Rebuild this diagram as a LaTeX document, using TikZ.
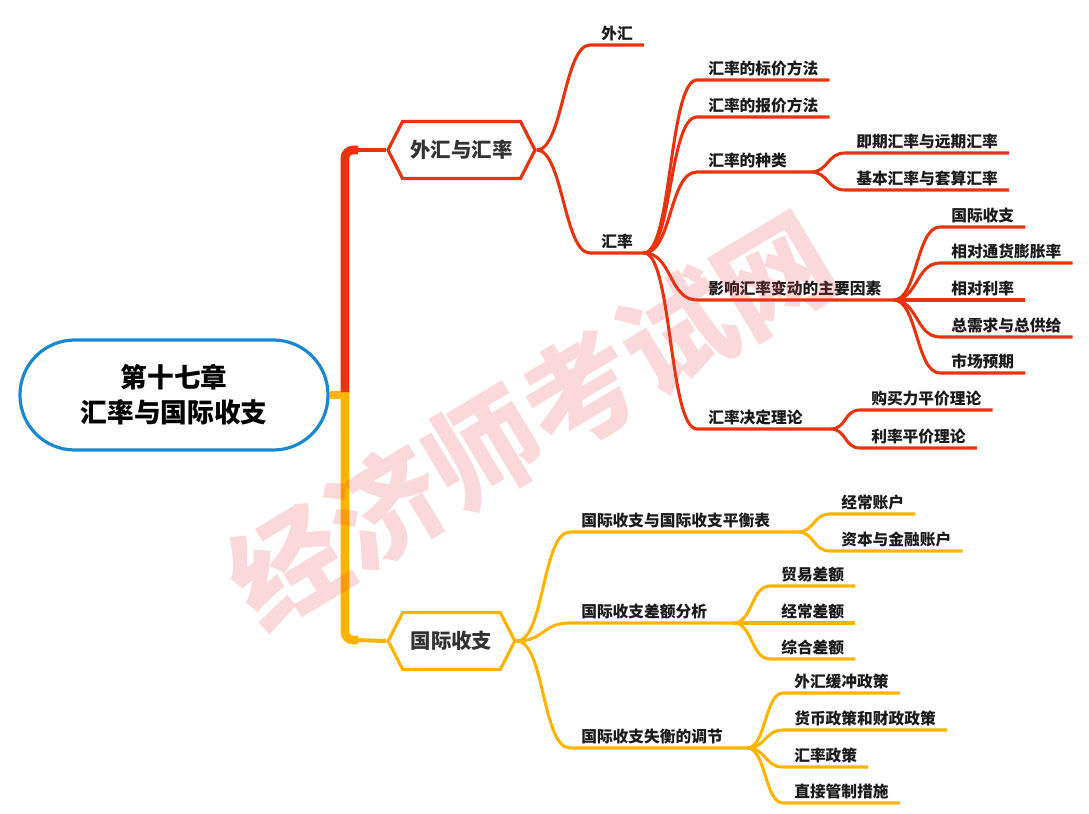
\documentclass[tikz,border=0pt]{standalone}
\usepackage{fontspec}
\setmainfont{Noto Sans CJK SC}
\usetikzlibrary{shapes.symbols,shapes.misc,calc}
\definecolor{rd}{RGB}{232,52,14}
\definecolor{yl}{RGB}{252,180,0}
\definecolor{bl}{RGB}{25,135,210}
\definecolor{ink}{RGB}{26,26,26}
\definecolor{wm}{RGB}{235,60,70}

\begin{document}
\begin{tikzpicture}[x=0.75pt, y=-0.75pt,
  root/.style={draw=bl, line width=2.4pt, rounded corners=41pt,
               minimum width=231pt, minimum height=82.5pt, align=center,
               font=\bfseries\fontsize{20}{26}\selectfont, text=black},
  hexa/.style={draw=#1, line width=2.4pt, fill=white, signal,
               signal to=west and east, signal pointer angle=126,
               minimum height=42.75pt, inner xsep=6pt,
               font=\bfseries\fontsize{15.3}{18}\selectfont, text=black!80},
  lbl/.style={anchor=south west, inner xsep=8.25pt, inner ysep=2.5pt,
              font=\bfseries\fontsize{11.8}{14}\selectfont, text=ink},
  br/.style={draw=#1, line width=2.3pt},
  sc/.style={to path={.. controls +(#1,0) and +(-#1,0) .. (\tikztotarget)}},
  trunk/.style={draw=#1, line width=6.5pt, rounded corners=6pt}
]
\useasboundingbox (0,0) rectangle (1089,814);

% root and main topics
\node[root] (root) at (174,395) {第十七章\\汇率与国际收支};
\node[hexa=rd] (hex1) at (461.5,150) {外汇与汇率};
\node[hexa=yl] (hex2) at (451.5,641) {国际收支};

\coordinate (tk) at (345,392);
\coordinate (tk1) at (358,150);
\coordinate (tk2) at (358,640);
\draw[trunk=yl] (root.east) -- (345,395);
\draw[trunk=yl] (tk) |- (tk2);
\draw[br=yl, line width=3pt] ($(tk2)+(-4,0)$) -- (hex2.west);
\draw[trunk=rd] (tk) |- (tk1);
\draw[br=rd, line width=3pt] ($(tk1)+(-4,0)$) -- (hex1.west);

% 外汇与汇率
\node[lbl] (wh) at (590,45) {外汇};
\node[lbl] (hl) at (590,253) {汇率};
\node[lbl] (bj) at (697,80) {汇率的标价方法};
\node[lbl] (bjf) at (697,117) {汇率的报价方法};
\node[lbl, text width=68.25pt] (zl) at (697,172) {汇率的种类};
\node[lbl] (jq) at (845,153) {即期汇率与远期汇率};
\node[lbl] (jb) at (845,190) {基本汇率与套算汇率};
\node[lbl, text width=130.5pt] (yx) at (697,300) {影响汇率变动的主要因素};
\node[lbl] (f1) at (940,227) {国际收支};
\node[lbl] (f2) at (940,263) {相对通货膨胀率};
\node[lbl] (f3) at (940,300) {相对利率};
\node[lbl] (f4) at (940,337) {总需求与总供给};
\node[lbl] (f5) at (940,373) {市场预期};
\node[lbl, text width=83.25pt] (jd) at (697,429) {汇率决定理论};
\node[lbl] (t1) at (860,410) {购买力平价理论};
\node[lbl] (t2) at (860,448) {利率平价理论};

\draw[br=rd] (hex1.east) to[sc=26] (wh.south west) -- (wh.south east);
\draw[br=rd] (hex1.east) to[sc=26] (hl.south west) -- (hl.south east);
\foreach \c in {bj,bjf,zl,yx,jd}
  \draw[br=rd] (hl.south east) to[sc=28] (\c.south west) -- (\c.south east);
\foreach \c in {jq,jb}
  \draw[br=rd] (zl.south east) to[sc=18] (\c.south west) -- (\c.south east);
\foreach \c in {f1,f2,f3,f4,f5}
  \draw[br=rd] (yx.south east) to[sc=24] (\c.south west) -- (\c.south east);
\foreach \c in {t1,t2}
  \draw[br=rd] (jd.south east) to[sc=16] (\c.south west) -- (\c.south east);

% 国际收支
\node[lbl, text width=153.75pt] (ph) at (570,532) {国际收支与国际收支平衡表};
\node[lbl] (a1) at (830,514) {经常账户};
\node[lbl] (a2) at (830,551) {资本与金融账户};
\node[lbl, text width=105.75pt] (ce) at (570,623) {国际收支差额分析};
\node[lbl] (c1) at (770,586) {贸易差额};
\node[lbl] (c2) at (770,623) {经常差额};
\node[lbl] (c3) at (770,659) {综合差额};
\node[lbl, text width=116.25pt] (tj) at (570,748) {国际收支失衡的调节};
\node[lbl] (d1) at (783,693) {外汇缓冲政策};
\node[lbl] (d2) at (783,730) {货币政策和财政政策};
\node[lbl] (d3) at (783,767) {汇率政策};
\node[lbl] (d4) at (783,803) {直接管制措施};

\foreach \c in {ph,ce,tj}
  \draw[br=yl] (hex2.east) to[sc=28] (\c.south west) -- (\c.south east);
\foreach \c in {a1,a2}
  \draw[br=yl] (ph.south east) to[sc=17] (\c.south west) -- (\c.south east);
\foreach \c in {c1,c2,c3}
  \draw[br=yl] (ce.south east) to[sc=19] (\c.south west) -- (\c.south east);
\foreach \c in {d1,d2,d3,d4}
  \draw[br=yl] (tj.south east) to[sc=18] (\c.south west) -- (\c.south east);

% watermark
\node[rotate=31, text=wm, text opacity=0.2, font=\bfseries\fontsize{85}{85}\selectfont]
  (mark) at (531,420) {经济师考试网};
\end{tikzpicture}
\end{document}
